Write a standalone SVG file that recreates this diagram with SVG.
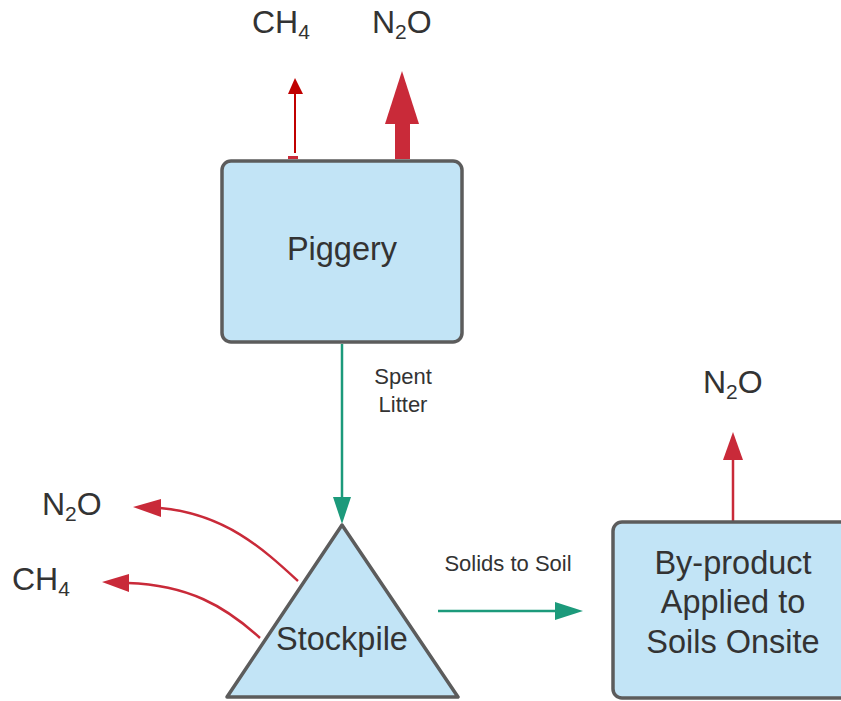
<svg xmlns="http://www.w3.org/2000/svg" width="841" height="701" viewBox="0 0 841 701">
<style>
.node{fill:#c2e4f6;stroke:#5c5c5c;stroke-width:3.5;stroke-linejoin:round}
.t{font-family:"Liberation Sans",Arial,sans-serif;fill:#333333}
.big{font-size:32.5px}
.gas{font-size:32px}
.sub{font-size:21px}
.lbl{font-size:22px}
.red{stroke:#c92a39;stroke-width:2.5;fill:none}
.grn{stroke:#1c9a7b;stroke-width:2.5;fill:none}
</style>
<rect width="841" height="701" fill="#ffffff"/>
<g id="connectors">
<line x1="342" y1="344" x2="342" y2="500" class="grn"/>
<polygon points="333,497 351,497 342,524" fill="#1c9a7b"/>
<line x1="438" y1="611" x2="558" y2="611" class="grn"/>
<polygon points="555,602 555,620 583,611" fill="#1c9a7b"/>
<line x1="295" y1="153" x2="295" y2="92" stroke="#c00000" stroke-width="2"/>
<polygon points="288,94 303,94 295,78" fill="#c00000"/>
<rect x="288" y="156" width="10" height="3" fill="#c92a39"/>
<rect x="395" y="122" width="15" height="37" fill="#c92a39"/>
<polygon points="385,124 419,124 402,71" fill="#c92a39"/>
<path d="M298,581 C262,548 225,514 160,508" class="red"/>
<polygon points="161,499 161,517 133,507" fill="#c92a39"/>
<path d="M260,638 C225,606 188,585 128,583" class="red"/>
<polygon points="129,574 129,592 102,582" fill="#c92a39"/>
<line x1="733" y1="522" x2="733" y2="458" class="red"/>
<polygon points="723,460 743,460 733,432" fill="#c92a39"/>
</g>
<g id="piggery">
<rect x="222" y="161" width="240" height="181" rx="9" class="node"/>
<text x="342" y="260" text-anchor="middle" class="t big">Piggery</text>
</g>
<g id="stockpile">
<path d="M342,525 L458,697 L227,697 Z" class="node"/>
<text x="342" y="650" text-anchor="middle" class="t big">Stockpile</text>
</g>
<g id="byproduct">
<rect x="613" y="522" width="240" height="176" rx="9" class="node"/>
<text x="733" y="574" text-anchor="middle" class="t big">By-product</text>
<text x="733" y="613" text-anchor="middle" class="t big">Applied to</text>
<text x="733" y="653" text-anchor="middle" class="t big">Soils Onsite</text>
</g>
<g id="labels">
<text x="403" y="384" text-anchor="middle" class="t lbl">Spent</text>
<text x="403" y="412" text-anchor="middle" class="t lbl">Litter</text>
<text x="508" y="571" text-anchor="middle" class="t lbl">Solids to Soil</text>
<text x="252" y="33" class="t gas">CH<tspan class="sub" dy="6">4</tspan></text>
<text x="372" y="33" class="t gas">N<tspan class="sub" dy="6">2</tspan><tspan dy="-6">O</tspan></text>
<text x="42" y="515" class="t gas">N<tspan class="sub" dy="6">2</tspan><tspan dy="-6">O</tspan></text>
<text x="12" y="590" class="t gas">CH<tspan class="sub" dy="6">4</tspan></text>
<text x="703" y="393" class="t gas">N<tspan class="sub" dy="6">2</tspan><tspan dy="-6">O</tspan></text>
</g>
</svg>
